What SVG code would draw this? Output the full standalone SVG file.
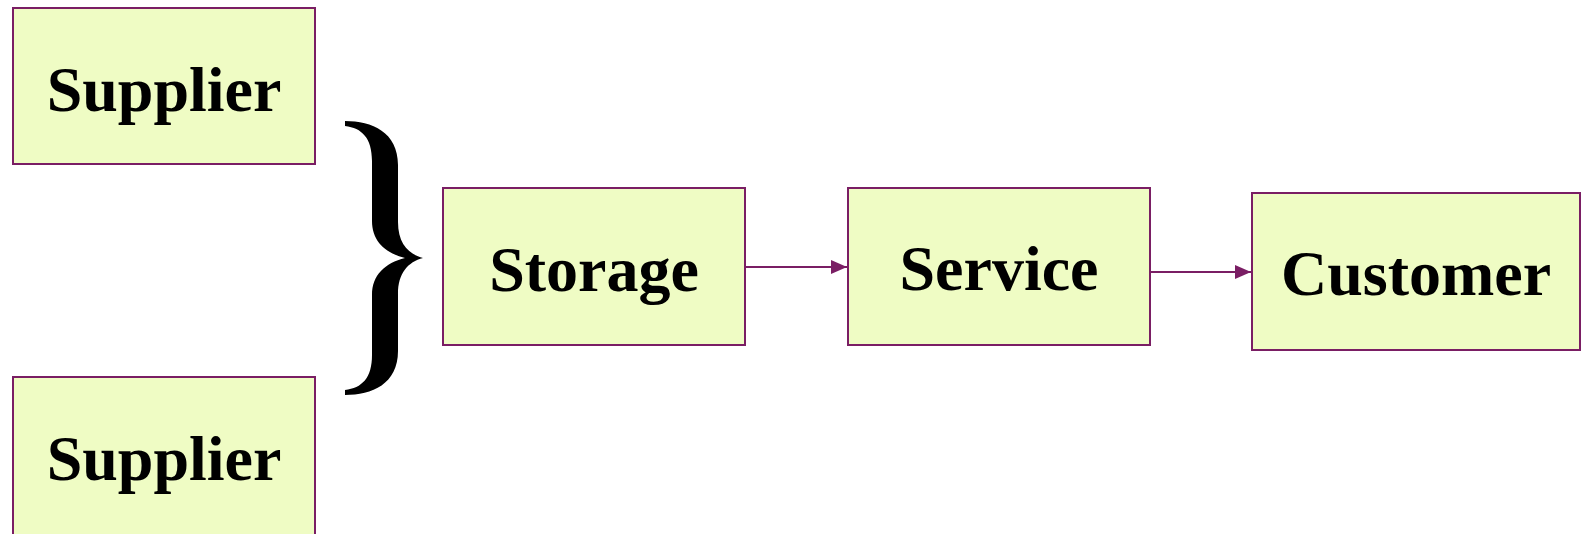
<svg xmlns="http://www.w3.org/2000/svg" width="1583" height="534" viewBox="0 0 1583 534">
  <style>
    .box { fill: #EFFCC4; stroke: #7A1E64; stroke-width: 2; }
    .label { font-family: "Liberation Serif", "Times New Roman", serif; font-weight: bold; font-size: 64px; fill: #000000; text-anchor: middle; }
    .link { stroke: #7A1E64; stroke-width: 2; fill: none; marker-end: url(#arrow); }
  </style>
  <defs>
    <marker id="arrow" markerUnits="userSpaceOnUse" markerWidth="16" markerHeight="14" refX="16" refY="7" orient="auto">
      <path d="M0,0 L16,7 L0,14 Z" fill="#7A1E64"/>
    </marker>
  </defs>
  <rect width="1583" height="534" fill="#FFFFFF"/>

  <g id="supplier-top">
    <rect class="box" x="13" y="8" width="302" height="156"/>
    <text class="label" x="164" y="111">Supplier</text>
  </g>

  <g id="supplier-bottom">
    <rect class="box" x="13" y="377" width="302" height="160"/>
    <text class="label" x="164" y="480">Supplier</text>
  </g>

  <!-- curly brace joining both suppliers into storage -->
  <g id="brace">
    <path fill="#000000" d="M345,121 C372,121 398,132 398,165 L398,222 C398,243 408,254 423,258 C408,262 398,273 398,294 L398,351 C398,384 372,395 345,395 L345,390 C362,388 372,378 372,355 L372,295 C372,275 385,263 405,258 C385,253 372,241 372,221 L372,161 C372,138 362,128 345,126 Z"/>
  </g>

  <g id="storage">
    <rect class="box" x="443" y="188" width="302" height="157"/>
    <text class="label" x="594" y="291">Storage</text>
  </g>

  <g id="service">
    <rect class="box" x="848" y="188" width="302" height="157"/>
    <text class="label" x="999" y="290">Service</text>
  </g>

  <g id="customer">
    <rect class="box" x="1252" y="193" width="328" height="157"/>
    <text class="label" x="1416" y="295">Customer</text>
  </g>

  <g id="connectors">
    <line class="link" x1="746" y1="267" x2="847" y2="267"/>
    <line class="link" x1="1151" y1="272" x2="1251" y2="272"/>
  </g>
</svg>
